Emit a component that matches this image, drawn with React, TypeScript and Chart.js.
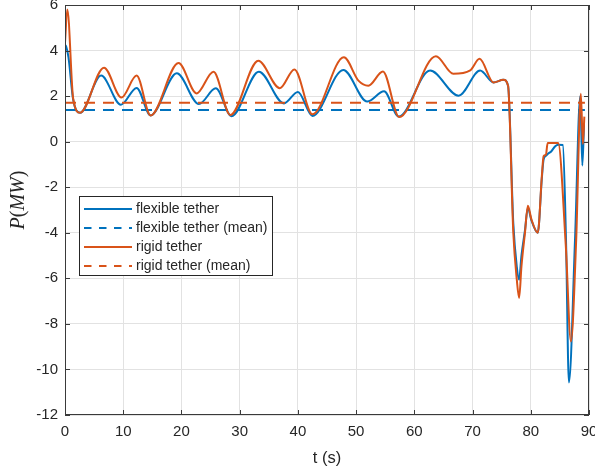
import React, { useEffect, useRef } from "react";
import { Chart, registerables } from "chart.js";

Chart.register(...registerables);

// Power output over time for the two tether models
const flexT = [0, 0.2, 0.6, 1.4, 2.6, 6.2, 9.6, 12.3, 14.7, 19.2, 23.0, 25.9, 28.6, 33.3, 37.6, 40.0, 42.5, 47.8, 51.9, 54.8, 57.3, 62.7, 67.6, 71.3, 73.6, 75.3, 76.1, 77.0, 77.6, 78.0, 78.4, 79.0, 79.5, 80.1, 81.2, 81.9, 82.2, 82.6, 83.0, 83.5, 84.2, 84.7, 85.5, 86.05, 86.55, 87.6, 88.5, 88.85, 89.15];
const flexP = [4.25, 4.18, 3.7, 1.85, 1.27, 2.9, 1.62, 2.36, 1.15, 3.0, 1.65, 2.34, 1.12, 3.07, 1.68, 2.18, 1.13, 3.15, 1.76, 2.21, 1.1, 3.12, 2.02, 3.12, 2.6, 2.72, 2.46, -3.6, -5.5, -6.06, -5.0, -3.9, -2.9, -3.45, -4.0, -1.6, -0.79, -0.62, -0.52, -0.43, -0.2, -0.13, -0.15, -4.3, -10.57, -4.3, 2.0, -1.05, 0.8];

const rigidT = [0, 0.4, 1.4, 2.6, 6.7, 9.7, 12.3, 14.7, 19.5, 22.6, 25.5, 28.4, 33.2, 36.9, 39.4, 42.5, 47.9, 50.4, 52.1, 54.6, 57.4, 63.7, 66.7, 69.6, 71.2, 73.6, 75.3, 76.1, 77.0, 77.6, 78.0, 78.4, 79.0, 79.5, 80.1, 81.2, 81.9, 82.2, 82.6, 82.9, 84.7, 86.0, 86.9, 87.8, 88.6, 88.95, 89.2];
const rigidP = [4.35, 5.8, 1.9, 1.27, 3.25, 1.94, 2.9, 1.15, 3.45, 2.12, 3.07, 1.17, 3.55, 2.35, 3.17, 1.2, 3.71, 2.68, 2.46, 3.08, 1.08, 3.75, 2.98, 3.13, 3.64, 2.6, 2.72, 2.46, -4.0, -6.06, -6.86, -5.47, -4.0, -2.81, -3.4, -4.0, -1.52, -0.64, -0.57, -0.06, -0.06, -4.5, -8.77, -4.3, 2.1, -0.1, 1.1];

const flexMean = 1.39;
const rigidMean = 1.71;
const meanSpan = [0, 89.3];

const xTicks = [0, 10, 20, 30, 40, 50, 60, 70, 80, 90];
const yTicks = [-12, -10, -8, -6, -4, -2, 0, 2, 4, 6];

const seriesNames = ["flexible tether", "flexible tether (mean)", "rigid tether", "rigid tether (mean)"];

const BLUE = "#0072BD";
const ORANGE = "#D95319";
const AXIS = "#262626";
const FONT = "'Liberation Sans', Arial, Helvetica, sans-serif";
const SERIF = "'Liberation Serif', 'Times New Roman', serif";

const pts = (xs: number[], ys: number[]) => xs.map((x, i) => ({ x, y: ys[i] }));

// y-axis title as math text: italic letters, upright parentheses
const yTitleParts: [string, boolean][] = [["P", true], ["(", false], ["MW", true], [")", false]];

const framePlugin = {
  id: "matlabFrame",
  afterDraw(chart: any) {
    const { ctx, chartArea: a, scales } = chart;
    const xs = scales.x;
    const ys = scales.y;
    ctx.save();

    // axes box
    ctx.strokeStyle = "#3a3a3a";
    ctx.lineWidth = 1;
    ctx.strokeRect(Math.round(a.left) + 0.5, Math.round(a.top) + 0.5, Math.round(a.right - a.left) - 1, Math.round(a.bottom - a.top) - 1);

    // inward tick marks on all four sides
    const tl = 5;
    ctx.beginPath();
    xTicks.forEach((v) => {
      const px = Math.round(xs.getPixelForValue(v)) + 0.5;
      ctx.moveTo(px, a.bottom);
      ctx.lineTo(px, a.bottom - tl);
      ctx.moveTo(px, a.top);
      ctx.lineTo(px, a.top + tl);
    });
    yTicks.forEach((v) => {
      const py = Math.round(ys.getPixelForValue(v)) + 0.5;
      ctx.moveTo(a.left, py);
      ctx.lineTo(a.left + tl, py);
      ctx.moveTo(a.right, py);
      ctx.lineTo(a.right - tl, py);
    });
    ctx.stroke();

    // legend
    const lx = 79.5, ly = 196.5, lw = 193, lh = 79;
    ctx.fillStyle = "#ffffff";
    ctx.fillRect(lx, ly, lw, lh);
    ctx.strokeStyle = AXIS;
    ctx.strokeRect(lx, ly, lw, lh);
    const colors = [BLUE, BLUE, ORANGE, ORANGE];
    const dashed = [false, true, false, true];
    ctx.font = `14px ${FONT}`;
    ctx.textBaseline = "middle";
    ctx.textAlign = "left";
    seriesNames.forEach((name, i) => {
      const y = 209 + i * 19;
      ctx.strokeStyle = colors[i];
      ctx.lineWidth = 2;
      ctx.setLineDash(dashed[i] ? [7.5, 7.5] : []);
      ctx.beginPath();
      ctx.moveTo(84, y);
      ctx.lineTo(132, y);
      ctx.stroke();
      ctx.setLineDash([]);
      ctx.fillStyle = AXIS;
      ctx.fillText(name, 136, y + 0.5);
    });

    // axis titles
    ctx.fillStyle = AXIS;
    ctx.font = `16.5px ${FONT}`;
    ctx.textAlign = "center";
    ctx.textBaseline = "middle";
    ctx.fillText("t (s)", (a.left + a.right) / 2, 458);

    ctx.save();
    ctx.translate(19, 200);
    ctx.rotate(-Math.PI / 2);
    ctx.textAlign = "left";
    const fontFor = (it: boolean) => `${it ? "italic " : ""}20px ${SERIF}`;
    let total = 0;
    yTitleParts.forEach(([s, it]) => { ctx.font = fontFor(it); total += ctx.measureText(s).width; });
    let cx = -total / 2;
    yTitleParts.forEach(([s, it]) => {
      ctx.font = fontFor(it);
      ctx.fillText(s, cx, 0);
      cx += ctx.measureText(s).width;
    });
    ctx.restore();

    ctx.restore();
  },
};

export default function App() {
  const canvasRef = useRef<HTMLCanvasElement | null>(null);

  useEffect(() => {
    const canvas = canvasRef.current;
    if (!canvas) return;
    const line = { pointRadius: 0, borderWidth: 2, cubicInterpolationMode: "monotone" as const, borderJoinStyle: "round" as const, fill: false };
    const chart = new Chart(canvas, {
      type: "line",
      data: {
        datasets: [
          { label: seriesNames[0], data: pts(flexT, flexP), borderColor: BLUE, order: 3, ...line },
          { label: seriesNames[1], data: pts(meanSpan, [flexMean, flexMean]), borderColor: BLUE, borderDash: [11, 8], order: 2, ...line },
          { label: seriesNames[2], data: pts(rigidT, rigidP), borderColor: ORANGE, order: 1, ...line },
          { label: seriesNames[3], data: pts(meanSpan, [rigidMean, rigidMean]), borderColor: ORANGE, borderDash: [11, 8], order: 0, ...line },
        ],
      },
      options: {
        animation: false,
        responsive: false,
        devicePixelRatio: 1,
        layout: { padding: { top: 5, right: 6, left: 0, bottom: 0 } },
        plugins: { legend: { display: false }, tooltip: { enabled: false } },
        scales: {
          x: {
            type: "linear",
            min: 0,
            max: 90,
            afterBuildTicks: (s: any) => { s.ticks = xTicks.map((v) => ({ value: v })); },
            afterFit: (s: any) => { s.height = 57; s.paddingLeft = 0; s.paddingRight = 0; },
            grid: { color: "#e2e2e2", drawTicks: false },
            border: { display: false },
            ticks: { font: { size: 15, family: FONT }, color: AXIS, padding: 8, maxRotation: 0 },
          },
          y: {
            type: "linear",
            min: -12,
            max: 6,
            afterBuildTicks: (s: any) => { s.ticks = yTicks.map((v) => ({ value: v })); },
            afterFit: (s: any) => { s.width = 65; s.paddingTop = 0; s.paddingBottom = 0; },
            grid: { color: "#e2e2e2", drawTicks: false },
            border: { display: false },
            ticks: { font: { size: 15, family: FONT }, color: AXIS, padding: 7 },
          },
        },
      },
      plugins: [framePlugin],
    });
    return () => chart.destroy();
  }, []);

  return (
    <div style={{ position: "absolute", left: 0, top: 0, width: 595, height: 472, background: "#ffffff" }}>
      <canvas ref={canvasRef} width={595} height={472} />
    </div>
  );
}
